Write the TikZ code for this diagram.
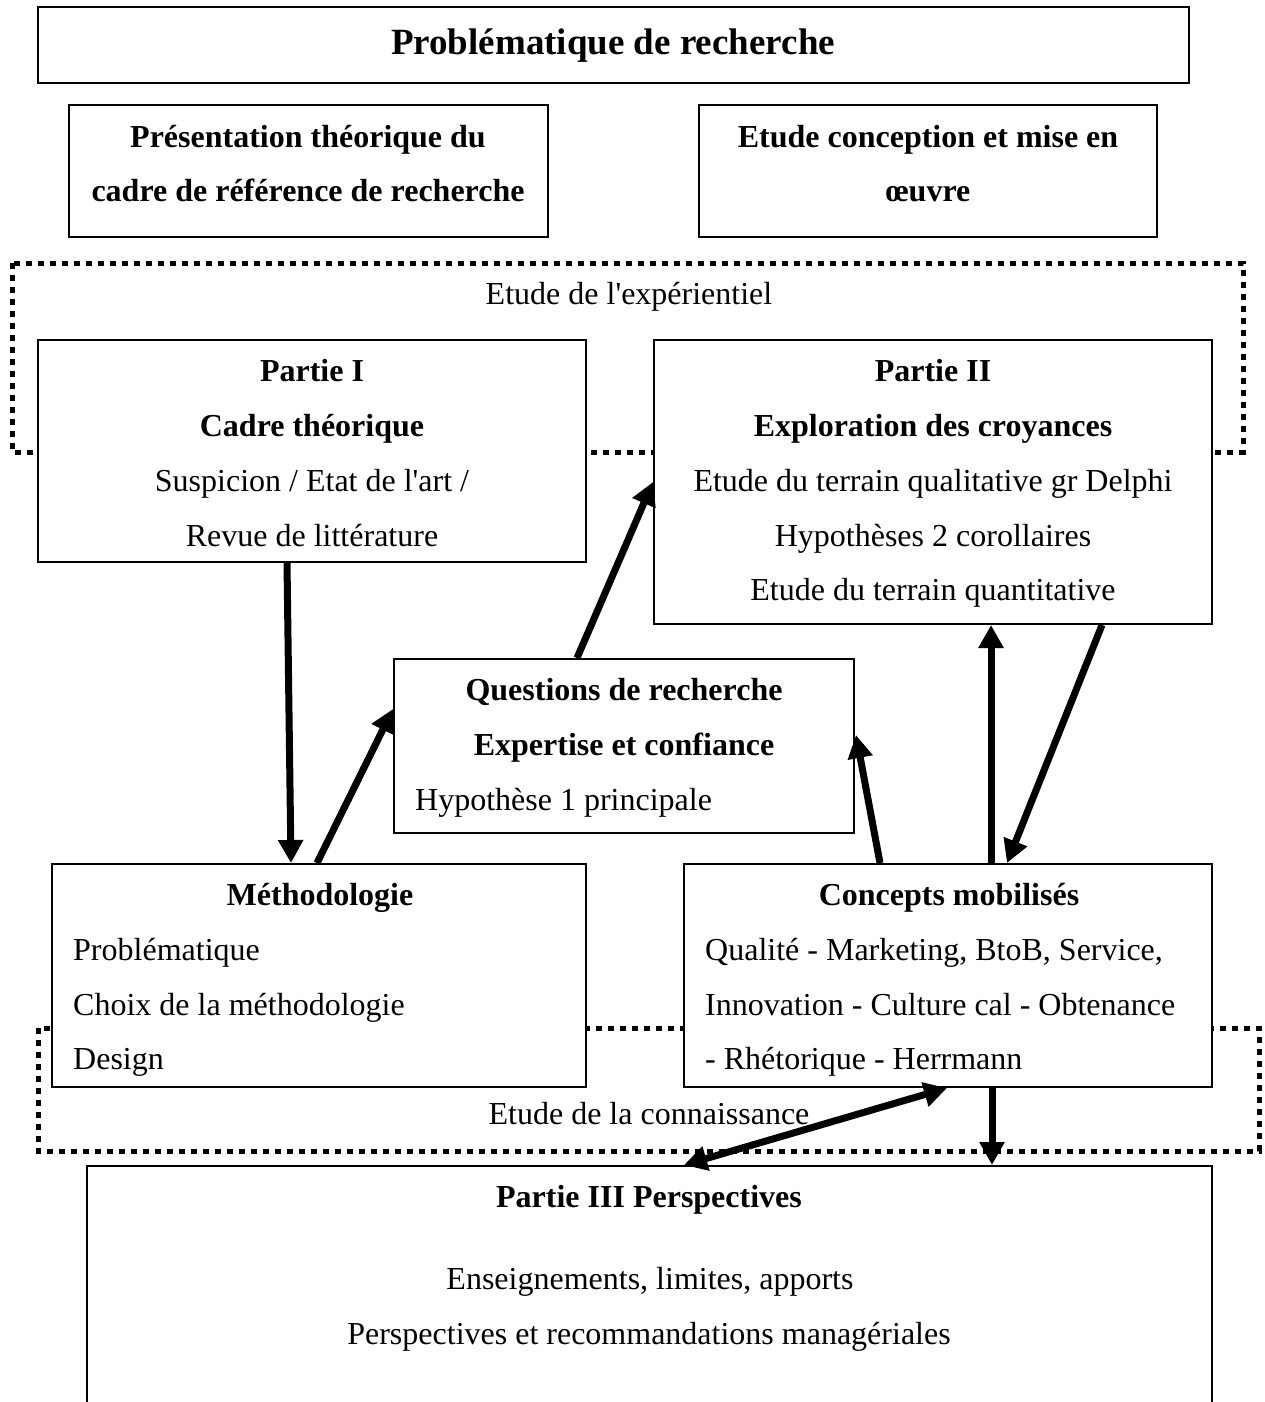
\documentclass[tikz,border=0pt]{standalone}
\usepackage{fontspec}
\setmainfont{Liberation Serif}
\usetikzlibrary{arrows.meta,calc}
\tikzset{
  box/.style={draw=black, line width=2pt, fill=white, inner sep=0pt},
  txt/.style={font=\fontsize{32}{38}\selectfont, inner sep=0pt, anchor=base},
  ltxt/.style={txt, anchor=base west},
  btxt/.style={txt, font=\fontsize{32}{38}\selectfont\bfseries},
  ttl/.style={txt, font=\fontsize{37}{44}\selectfont\bfseries},
  zone/.style={draw=black, line width=5pt, dash pattern=on 6pt off 6pt},
  arr/.style={line width=7pt, -{Triangle[length=23pt,width=24pt]}},
  darr/.style={line width=7pt, {Triangle[length=23pt,width=24pt]}-{Triangle[length=23pt,width=24pt]}}
}
\begin{document}
\begin{tikzpicture}[x=1pt,y=-1pt]
\useasboundingbox (0,0) rectangle (1264,1402);
\fill[white] (0,0) rectangle (1264,1402);

% dotted zones
\draw[zone] (12,263) rectangle (1243,452);
\draw[zone] (38,1028) rectangle (1259,1151);
\node[txt] (lz1) at (629,304) {Etude de l\textquotesingle expérientiel};
\node[txt] (lz2) at (649,1124) {Etude de la connaissance};

% boxes
\node[box, minimum width=1151pt, minimum height=76pt] (t) at (613.5,45) {};
\node[box, minimum width=479pt, minimum height=132pt] (ba) at (308.5,171) {};
\node[box, minimum width=458pt, minimum height=132pt] (bb) at (928,171) {};
\node[box, minimum width=548pt, minimum height=222pt] (p1) at (312,451) {};
\node[box, minimum width=558pt, minimum height=284pt] (p2) at (933,482) {};
\node[box, minimum width=460pt, minimum height=174pt] (q) at (624,746) {};
\node[box, minimum width=534pt, minimum height=223pt] (m) at (319,975.5) {};
\node[box, minimum width=528pt, minimum height=223pt] (c) at (948,975.5) {};
\node[box, minimum width=1125pt, minimum height=300pt] (p3) at (649.5,1316) {};

% texts
\node[ttl] (tt) at (613,55) {Problématique de recherche};
\node[btxt] (ta1) at (308,147) {Présentation théorique du};
\node[btxt] (ta2) at (308,201) {cadre de référence de recherche};
\node[btxt] (tb1) at (928,147) {Etude conception et mise en};
\node[btxt] (tb2) at (928,201) {œuvre};

\node[btxt] (t11) at (312,381) {Partie I};
\node[btxt] (t12) at (312,436) {Cadre théorique};
\node[txt] (t13) at (312,491) {Suspicion / Etat de l\textquotesingle art /};
\node[txt] (t14) at (312,546) {Revue de littérature};

\node[btxt] (t21) at (933,381) {Partie II};
\node[btxt] (t22) at (933,436) {Exploration des croyances};
\node[txt] (t23) at (933,491) {Etude du terrain qualitative gr Delphi};
\node[txt] (t24) at (933,546) {Hypothèses 2 corollaires};
\node[txt] (t25) at (933,600) {Etude du terrain quantitative};

\node[btxt] (tq1) at (624,700) {Questions de recherche};
\node[btxt] (tq2) at (624,755) {Expertise et confiance};
\node[ltxt] (tq3) at (415,810) {Hypothèse 1 principale};

\node[btxt] (tm1) at (320,905) {Méthodologie};
\node[ltxt] (tm2) at (73,960) {Problématique};
\node[ltxt] (tm3) at (73,1015) {Choix de la méthodologie};
\node[ltxt] (tm4) at (73,1069) {Design};

\node[btxt] (tc1) at (949,905) {Concepts mobilisés};
\node[ltxt] (tc2) at (705,960) {Qualité - Marketing, BtoB, Service,};
\node[ltxt] (tc3) at (705,1015) {Innovation - Culture cal - Obtenance};
\node[ltxt] (tc4) at (705,1069) {- Rhétorique - Herrmann};

\node[btxt] (t31) at (649,1207) {Partie III Perspectives};
\node[txt] (t32) at (650,1289) {Enseignements, limites, apports};
\node[txt] (t33) at (649,1344) {Perspectives et recommandations managériales};

% arrows
\draw[arr] ($(p1.south west)+(250,0)$) -- ($(m.north west)+(240,0)$);
\draw[arr] ($(m.north west)+(266,0)$) -- ($(q.north west)+(0,51)$);
\draw[arr] ($(q.north west)+(184,0)$) -- ($(p2.north west)+(0,143)$);
\draw[arr] ($(c.north west)+(197,0)$) -- ($(q.north east)+(1,77)$);
\draw[arr] ($(c.north west)+(308,0)$) -- ($(p2.south west)+(338,0)$);
\draw[arr] ($(p2.south west)+(449,0)$) -- ($(c.north west)+(324,0)$);
\draw[darr] ($(c.south west)+(264,0)$) -- ($(p3.north west)+(598,0)$);
\draw[arr] ($(c.south west)+(309,0)$) -- ($(p3.north west)+(906,0)$);
\end{tikzpicture}
\end{document}
